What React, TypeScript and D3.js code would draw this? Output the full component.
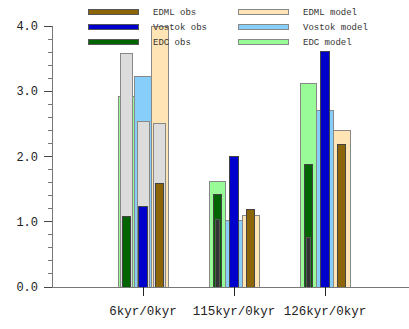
import React from "react";
import * as d3 from "d3";

// chart data
const categories = ["6kyr/0kyr", "115kyr/0kyr", "126kyr/0kyr"];
const seriesKeys = ["EDC", "Vostok", "EDML"];

const edcModel = [2.92, 1.61, 3.12];
const vostokModel = [3.22, 1.02, 2.7];
const edmlModel = [4.0, 1.09, 2.4];

const edcAlt = [3.58, null, null];
const vostokAlt = [2.53, null, null];
const edmlAlt = [2.5, null, null];

const edcObs = [1.08, 1.41, 1.88];
const vostokObs = [1.23, 2.0, 3.61];
const edmlObs = [1.59, 1.19, 2.19];

const edcObs2 = [null, 1.04, 0.76];

const yTicks = [0, 1, 2, 3, 4];

const legendItems = [
  { label: "EDML obs", color: "#8b6508", stroke: "#555", col: 0, row: 0 },
  { label: "Vostok obs", color: "#0000cd", stroke: "#555", col: 0, row: 1 },
  { label: "EDC obs", color: "#006400", stroke: "#555", col: 0, row: 2 },
  { label: "EDML model", color: "#ffe4b5", stroke: "#888", col: 1, row: 0 },
  { label: "Vostok model", color: "#87cefa", stroke: "#888", col: 1, row: 1 },
  { label: "EDC model", color: "#98fb98", stroke: "#888", col: 1, row: 2 },
];

const width = 409;
const height = 329;
const margin = { top: 26, left: 52, bottom: 42 };

const mono = "'Liberation Mono', 'DejaVu Sans Mono', monospace";

const App = () => {
  const x = d3.scalePoint<string>()
    .domain(categories)
    .range([margin.left, 416])
    .padding(1);

  const inner = d3.scaleBand<string>()
    .domain(seriesKeys)
    .range([-25, 25]);

  const y = d3.scaleLinear()
    .domain([0, 4])
    .range([height - margin.bottom, margin.top]);

  const minorTicks = d3.range(0, 4.001, 0.2);

  const bars = (
    values: (number | null)[][],
    barWidth: number,
    fills: string[],
    stroke: string,
    keyPrefix: string
  ) =>
    values.flatMap((vals, si) =>
      vals.map((v, ci) => {
        if (v === null) return null;
        const cx = (x(categories[ci]) as number) + (inner(seriesKeys[si]) as number) + inner.bandwidth() / 2;
        return (
          <rect
            key={`${keyPrefix}-${si}-${ci}`}
            x={cx - barWidth / 2}
            y={y(v)}
            width={barWidth}
            height={y(0) - y(v)}
            fill={fills[si]}
            stroke={stroke}
            strokeWidth={1}
          />
        );
      })
    );

  return (
    <svg
      width={width}
      height={height}
      style={{ position: "absolute", left: 0, top: 0, background: "#fff" }}
      shapeRendering="crispEdges"
    >
      {/* model bars */}
      {bars([edcModel, vostokModel, edmlModel], inner.bandwidth(), ["#98fb98", "#87cefa", "#ffe4b5"], "#888", "m")}
      {/* second model (grey) */}
      {bars([edcAlt, vostokAlt, edmlAlt], 12, ["#dcdcdc", "#dcdcdc", "#dcdcdc"], "#888", "a")}
      {/* observations */}
      {bars([edcObs, vostokObs, edmlObs], 8.5, ["#006400", "#0000cd", "#8b6508"], "#444", "o")}
      {bars([edcObs2, [null, null, null], [null, null, null]], 3.5, ["#333", "#333", "#333"], "#555", "o2")}

      {/* y axis */}
      <g stroke="#777" strokeWidth={1}>
        <line x1={margin.left} x2={margin.left} y1={y(4)} y2={y(0)} />
        {minorTicks.map((t) => (
          <line key={`mt${t}`} x1={margin.left - 4} x2={margin.left} y1={y(t)} y2={y(t)} />
        ))}
        {yTicks.map((t) => (
          <line key={`t${t}`} x1={margin.left - 8} x2={margin.left} y1={y(t)} y2={y(t)} stroke="#444" />
        ))}
      </g>
      {yTicks.map((t) => (
        <text
          key={`l${t}`}
          x={38}
          y={y(t) + 4}
          textAnchor="end"
          fontFamily={mono}
          fontSize={12}
          fill="#222"
        >
          {d3.format(".1f")(t)}
        </text>
      ))}

      {/* x axis */}
      <line x1={margin.left} x2={416} y1={y(0)} y2={y(0)} stroke="#777" />
      {categories.map((c) => (
        <g key={c}>
          <line x1={x(c)} x2={x(c)} y1={y(0)} y2={y(0) + 9} stroke="#222" />
          <text x={x(c)} y={315} textAnchor="middle" fontFamily={mono} fontSize={12.5} fill="#222">
            {c}
          </text>
        </g>
      ))}

      {/* legend */}
      {legendItems.map((d) => (
        <g key={d.label} transform={`translate(${88 + d.col * 150},${12 + d.row * 15})`}>
          <rect x={0} y={-2.5} width={50} height={5} fill={d.color} stroke={d.stroke} />
          <text x={65} y={3} fontFamily={mono} fontSize={9} fill="#333">
            {d.label}
          </text>
        </g>
      ))}
    </svg>
  );
};

export default App;
